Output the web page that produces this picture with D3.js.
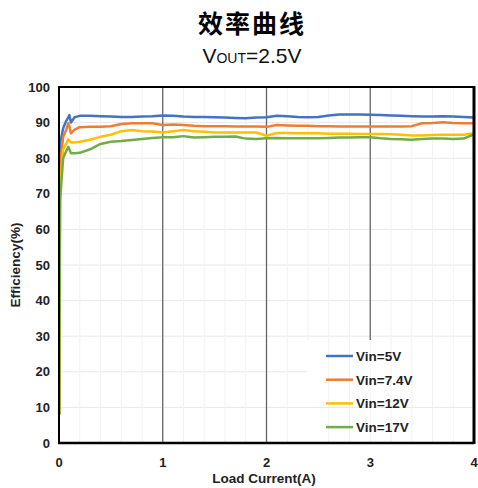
<!DOCTYPE html>
<html>
<head>
<meta charset="utf-8">
<script src="https://d3js.org/d3.v7.min.js"></script>
<style>
body { margin: 0; background: #fff; }
svg { font-family: "Liberation Sans", Arial, sans-serif; }
</style>
</head>
<body>
<svg id="chart" width="478" height="488"></svg>
<script>
// load current (A)
var xs = [0.002, 0.01, 0.04, 0.07, 0.09, 0.1, 0.115, 0.15, 0.2,
  0.3, 0.4, 0.5, 0.6, 0.7, 0.8, 0.9, 1.0, 1.1, 1.2, 1.3, 1.4, 1.5, 1.6, 1.7, 1.8, 1.9,
  2.0, 2.1, 2.2, 2.3, 2.4, 2.5, 2.6, 2.7, 2.8, 2.9, 3.0, 3.1, 3.2, 3.3, 3.4, 3.5,
  3.6, 3.7, 3.8, 3.9, 4.0];

var vin5 = [8, 84, 88.4, 90.5, 91.5, 92.1, 90.0, 91.5, 91.9,
  91.9, 91.8, 91.7, 91.6, 91.6, 91.7, 91.8, 92.0, 91.9, 91.7, 91.6, 91.6, 91.5, 91.4, 91.3, 91.2, 91.4,
  91.5, 91.9, 91.8, 91.6, 91.5, 91.6, 92.0, 92.3, 92.3, 92.3, 92.2, 92.1, 92.0, 91.9, 91.8, 91.7,
  91.7, 91.8, 91.7, 91.6, 91.4];
var vin74 = [8, 78, 86, 88, 89.8, 89.0, 87.0, 88.0, 88.7,
  88.8, 88.8, 89.0, 89.6, 89.8, 89.8, 89.8, 89.3, 89.5, 89.3, 89.1, 89.0, 89.0, 89.0, 88.9, 88.9, 88.9,
  88.8, 89.3, 89.2, 89.1, 89.1, 89.0, 89.0, 88.9, 88.9, 88.9, 88.9, 88.9, 88.9, 88.9, 89.0, 89.8,
  89.9, 90.1, 89.9, 89.8, 89.8];
var vin12 = [8, 72, 82.5, 84, 85.3, 85.0, 84.4, 84.4, 84.6,
  85.2, 86.0, 86.6, 87.6, 87.9, 87.6, 87.5, 87.2, 87.6, 87.9, 87.6, 87.4, 87.2, 87.2, 87.2, 87.2, 87.2,
  86.3, 87.1, 87.1, 87.0, 87.0, 87.0, 86.9, 86.9, 86.9, 86.8, 86.8, 86.8, 86.7, 86.6, 86.4, 86.4,
  86.5, 86.6, 86.6, 86.6, 87.0];
var vin17 = [8, 68, 80, 82, 83.2, 82.5, 81.4, 81.4, 81.5,
  82.5, 84.0, 84.6, 84.8, 85.1, 85.4, 85.7, 85.9, 85.9, 86.2, 85.8, 85.9, 86.0, 86.0, 86.1, 85.5, 85.4,
  85.6, 85.7, 85.6, 85.6, 85.6, 85.6, 85.7, 85.8, 85.8, 85.9, 85.9, 85.6, 85.4, 85.3, 85.2, 85.4,
  85.5, 85.5, 85.4, 85.5, 86.7];

var names = ["Vin=5V", "Vin=7.4V", "Vin=12V", "Vin=17V"];
var colors = ["#4472C4", "#ED7D31", "#FFC000", "#70AD47"];
var xTicks = [0, 1, 2, 3, 4];
var yTicks = [0, 10, 20, 30, 40, 50, 60, 70, 80, 90, 100];
var xMinor = d3.range(0, 4.01, 0.2);

var series = [vin5, vin74, vin12, vin17];

var svg = d3.select("#chart");
var L = 59, R = 474, T = 87, B = 443;
var x = d3.scaleLinear([0, 4], [L, R]);
var y = d3.scaleLinear([0, 100], [B, T]);

// title
svg.append("text").attr("x", 252).attr("y", 33).attr("text-anchor", "middle")
  .style("font-family", "'Noto Sans CJK SC', sans-serif").style("font-size", "25px")
  .style("font-weight", "bold").style("letter-spacing", "2px").text("效率曲线");
var sub = svg.append("text").attr("x", 252).attr("y", 63).attr("text-anchor", "middle")
  .style("font-size", "21px").attr("fill", "#111");
sub.append("tspan").text("V");
sub.append("tspan").style("font-size", "14px").text("OUT");
sub.append("tspan").text("=2.5V");

// minor grid
var grid = svg.append("g");
grid.selectAll("line.h").data(yTicks.slice(1, -1)).join("line")
  .attr("x1", L).attr("x2", R).attr("y1", d => y(d)).attr("y2", d => y(d))
  .attr("stroke", "#e8e8e8").attr("stroke-width", 1);
grid.selectAll("line.v").data(xMinor.filter(d => d > 0.01 && d < 3.99)).join("line")
  .attr("y1", T).attr("y2", B).attr("x1", d => x(d)).attr("x2", d => x(d))
  .attr("stroke", "#f2f2f2").attr("stroke-width", 1);

// major vertical grid
svg.append("g").selectAll("line").data([1, 2, 3]).join("line")
  .attr("x1", d => x(d)).attr("x2", d => x(d)).attr("y1", T).attr("y2", B)
  .attr("stroke", "#666").attr("stroke-width", 1.3);

// legend background
var lg = svg.append("g");
lg.append("rect").attr("x", 307).attr("y", 340).attr("width", 165).attr("height", 102).attr("fill", "#fff");
lg.selectAll("line.g").data(xMinor.filter(d => x(d) > 308 && d < 3.99)).join("line")
  .attr("y1", 340).attr("y2", B).attr("x1", d => x(d)).attr("x2", d => x(d))
  .attr("stroke", "#f2f2f2");
lg.append("line").attr("x1", 307).attr("x2", 472).attr("y1", y(10)).attr("y2", y(10)).attr("stroke", "#e8e8e8");

// curves
var line = d3.line().x((d, i) => x(xs[i])).y(d => y(d));
svg.append("g").selectAll("path").data(series).join("path")
  .attr("d", d => line(d)).attr("fill", "none")
  .attr("stroke", (d, i) => colors[i]).attr("stroke-width", 2.5)
  .attr("stroke-linejoin", "round");

// frame
svg.append("line").attr("x1", L).attr("x2", R).attr("y1", T).attr("y2", T).attr("stroke", "#000").attr("stroke-width", 2);
svg.append("line").attr("x1", R).attr("x2", R).attr("y1", T - 1).attr("y2", B + 1).attr("stroke", "#000").attr("stroke-width", 3);
svg.append("line").attr("x1", L).attr("x2", L).attr("y1", T - 1).attr("y2", B + 1).attr("stroke", "#000").attr("stroke-width", 2);
svg.append("line").attr("x1", L - 1).attr("x2", R).attr("y1", B).attr("y2", B).attr("stroke", "#000").attr("stroke-width", 2.5);

// tick labels
svg.append("g").selectAll("text").data(yTicks).join("text")
  .attr("x", 50).attr("y", d => y(d) + 4.5).attr("text-anchor", "end")
  .style("font-size", "13px").style("font-weight", "bold").attr("fill", "#222").text(d => d);
svg.append("g").selectAll("text").data(xTicks).join("text")
  .attr("x", d => x(d)).attr("y", 467).attr("text-anchor", "middle")
  .style("font-size", "13px").style("font-weight", "bold").attr("fill", "#222").text(d => d);

// axis titles
svg.append("text").attr("x", 264).attr("y", 483).attr("text-anchor", "middle")
  .style("font-size", "13.5px").style("font-weight", "bold").attr("fill", "#222").text("Load Current(A)");
svg.append("text").attr("transform", "translate(20," + (B + T) / 2 + ") rotate(-90)")
  .attr("text-anchor", "middle").style("font-size", "13.5px").style("font-weight", "bold")
  .attr("fill", "#222").text("Efficiency(%)");

// legend entries
var items = lg.selectAll("g.item").data(names).join("g")
  .attr("transform", (d, i) => "translate(0," + (356 + i * 23.7) + ")");
items.append("line").attr("x1", 326).attr("x2", 353).attr("y1", 0).attr("y2", 0)
  .attr("stroke", (d, i) => colors[i]).attr("stroke-width", 2.5);
items.append("text").attr("x", 356).attr("y", 5).style("font-size", "13.5px")
  .style("font-weight", "bold").attr("fill", "#222").text(d => d);
</script>
</body>
</html>
